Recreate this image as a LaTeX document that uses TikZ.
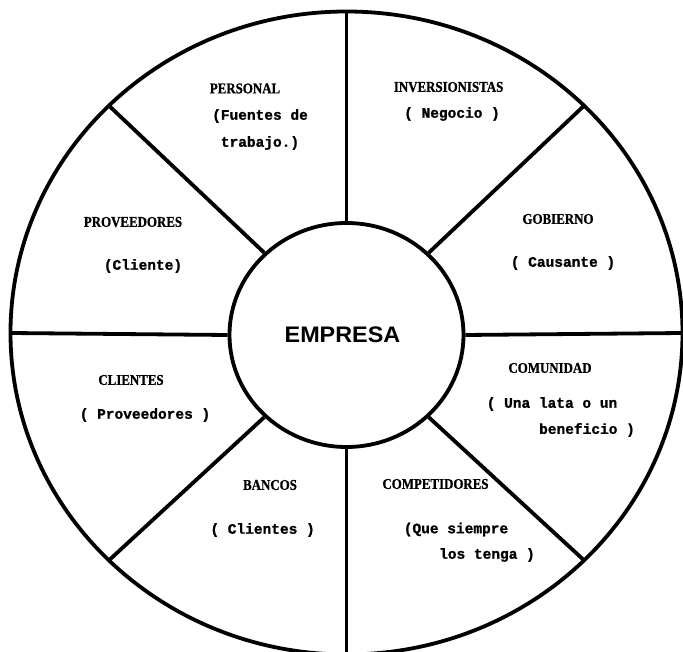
\documentclass[tikz,border=0pt]{standalone}
\usepackage{fontspec}
\usetikzlibrary{shapes.geometric}
\newfontfamily\typedfont{Liberation Mono}[BoldFeatures={FakeBold=1.2}]
\newfontfamily\headfont{Liberation Serif}[FakeStretch=0.86, BoldFeatures={FakeBold=0.8}]
\newfontfamily\empfont{Liberation Sans}[FakeStretch=1.04]
\tikzset{
  ring/.style={draw, line width=3.8pt, ellipse, inner sep=0pt},
  spoke/.style={line width=3.8pt},
  hdr/.style={inner sep=0pt, font=\headfont\bfseries\fontsize{15}{17}\selectfont},
  sub/.style={inner sep=0pt, font=\typedfont\bfseries\fontsize{14.5}{17}\selectfont},
}
\begin{document}
\begin{tikzpicture}[x=1pt, y=1pt]
\useasboundingbox (0,0) rectangle (683,651);

% outer rim and central hub
\node[ring, minimum width=672pt, minimum height=643pt] (rim) at (346.5,318) {};
\node[ring, minimum width=234pt, minimum height=224pt,
      font=\empfont\bfseries\fontsize{22.5}{26}\selectfont] (empresa) at (346.5,316) {\hspace*{-8pt}EMPRESA};

% eight spokes from the hub to the rim
\foreach \a in {0,45,...,315} {
  \path (rim.center) ++(\a:336 and 321.5) coordinate (o\a);
  \draw[spoke] (empresa.\a) -- (o\a);
}

% sector labels
\node[hdr] (personal) at (245,562.5) {PERSONAL};
\node[sub] (personal1) at (260,535) {(Fuentes de};
\node[sub] (personal2) at (260,508) {trabajo.)};

\node[hdr] (inversion) at (448.6,564) {INVERSIONISTAS};
\node[sub] (inversion1) at (452,537) {( Negocio )};

\node[hdr] (proveedores) at (133,429) {PROVEEDORES};
\node[sub] (proveedores1) at (143,385) {(Cliente)};

\node[hdr] (gobierno) at (558,432) {GOBIERNO};
\node[sub] (gobierno1) at (563,388) {( Causante )};

\node[hdr] (comunidad) at (550,283) {COMUNIDAD};
\node[sub] (comunidad1) at (552,247) {( Una lata o un};
\node[sub] (comunidad2) at (587,221) {beneficio )};

\node[hdr] (clientes) at (131,271) {CLIENTES};
\node[sub] (clientes1) at (145,236) {( Proveedores )};

\node[hdr] (bancos) at (270,166) {BANCOS};
\node[sub] (bancos1) at (262.6,121) {( Clientes )};

\node[hdr] (competidores) at (435.5,167) {COMPETIDORES};
\node[sub] (competidores1) at (456,121.5) {(Que siempre};
\node[sub] (competidores2) at (487,96) {los tenga )};
\end{tikzpicture}
\end{document}
